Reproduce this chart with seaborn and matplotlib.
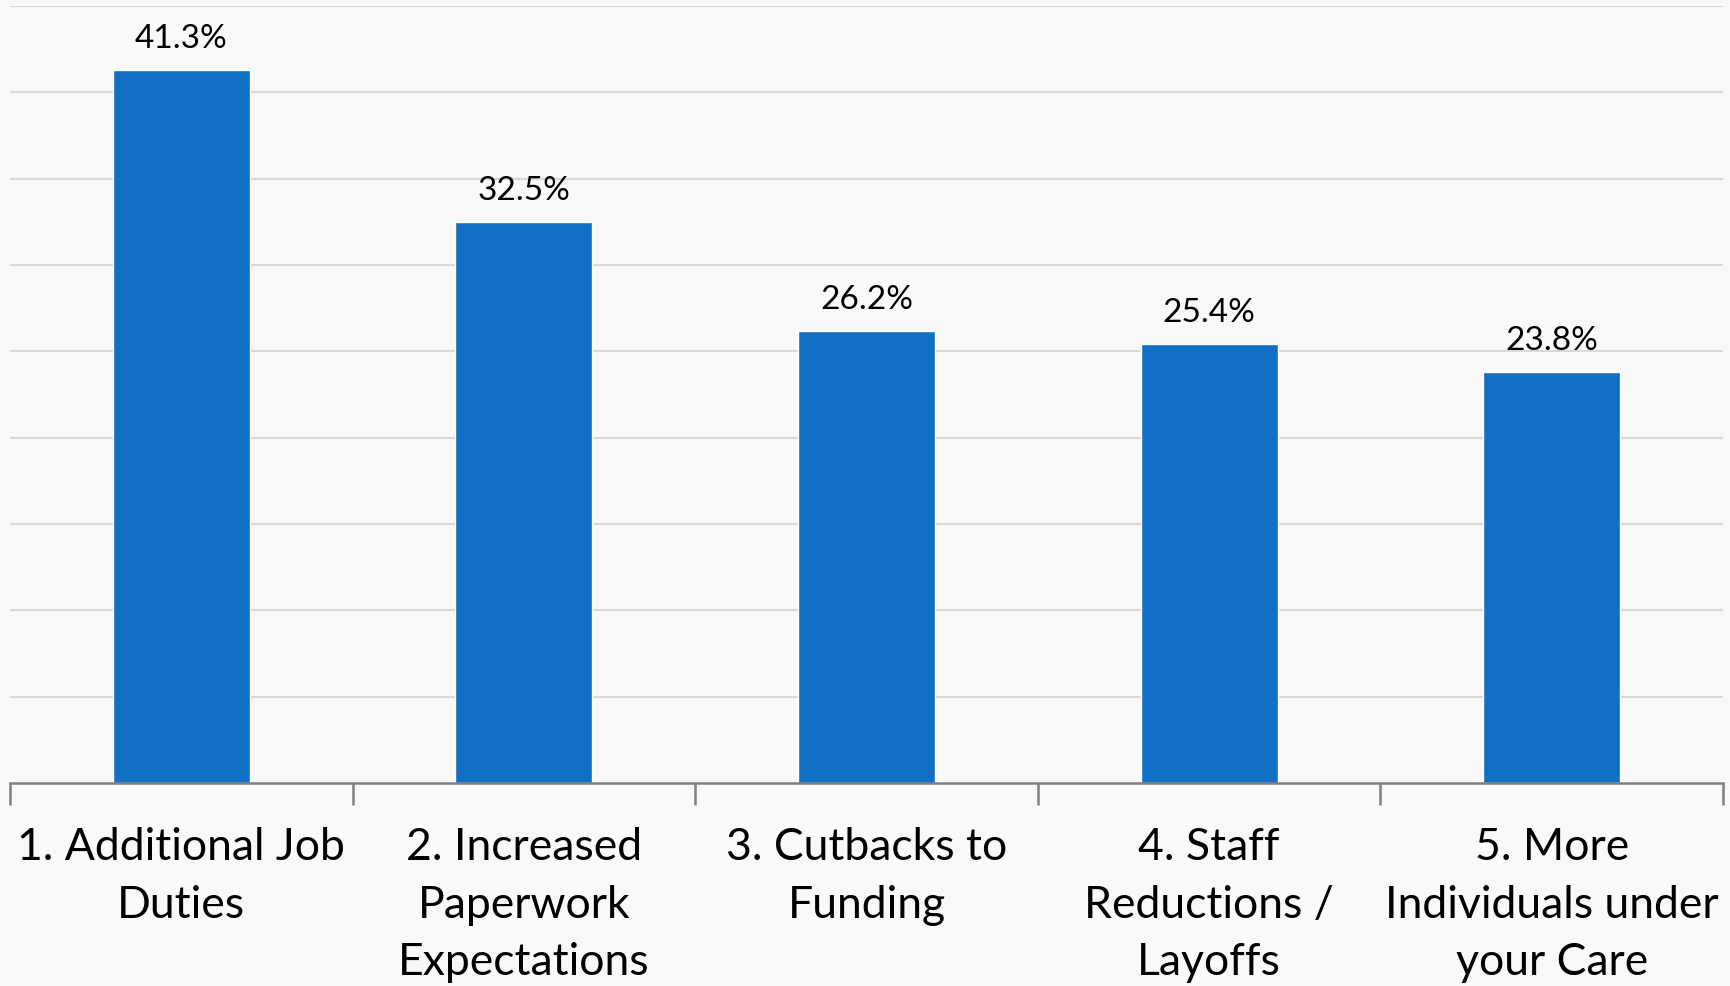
import matplotlib
matplotlib.use("Agg")
import matplotlib.pyplot as plt
import seaborn as sns
import pandas as pd
import numpy as np

categories = ["1. Additional Job\nDuties",
              "2. Increased\nPaperwork\nExpectations",
              "3. Cutbacks to\nFunding",
              "4. Staff\nReductions /\nLayoffs",
              "5. More\nIndividuals under\nyour Care"]
values = [41.3, 32.5, 26.2, 25.4, 23.8]
value_labels = ["41.3%", "32.5%", "26.2%", "25.4%", "23.8%"]

sns.set_theme(style="white")
plt.rcParams['font.family'] = ['Lato', 'DejaVu Sans']

fig = plt.figure(figsize=(17.31, 9.87), dpi=100)
bg = "#f9f9f9"
fig.patch.set_facecolor(bg)
ax = fig.add_axes([10/1731, 1 - 784/987, 1713/1731, 777/987])
ax.set_facecolor(bg)

df = pd.DataFrame({"cat": categories, "val": values})
sns.barplot(data=df, x="cat", y="val", color="#116fc5", saturation=1, width=0.4, ax=ax, zorder=3)

ax.set_ylim(0, 45)
ax.set_xlim(-0.5, 4.5)
ax.set_yticks(np.arange(5, 46, 5))
ax.yaxis.grid(True, color="#d9d9d9", linewidth=1.6, zorder=0)
ax.set_axisbelow(True)
ax.tick_params(axis="y", left=False, labelleft=False)
for s in ["left", "right", "top"]:
    ax.spines[s].set_visible(False)
ax.spines["bottom"].set_color("#808080")
ax.spines["bottom"].set_linewidth(1.8)
ax.spines["bottom"].set_zorder(4)

ax.set_xlabel("")
ax.set_ylabel("")
ax.set_xticks(range(len(categories)))
ax.set_xticklabels(categories, fontsize=32, color="black", linespacing=1.5, va="top")
ax.tick_params(axis="x", which="major", length=0, pad=31)
ax.set_xticks(np.arange(-0.5, 5, 1), minor=True)
ax.tick_params(axis="x", which="minor", length=16, width=1.8, color="#808080", direction="out", bottom=True)

for i, (v, lab) in enumerate(zip(values, value_labels)):
    ax.annotate(lab, (i, v), xytext=(0, 17), textcoords="offset pixels",
                ha="center", va="bottom", fontsize=24, color="black", zorder=5)

fig.savefig("out.png", dpi=100, facecolor=bg)
